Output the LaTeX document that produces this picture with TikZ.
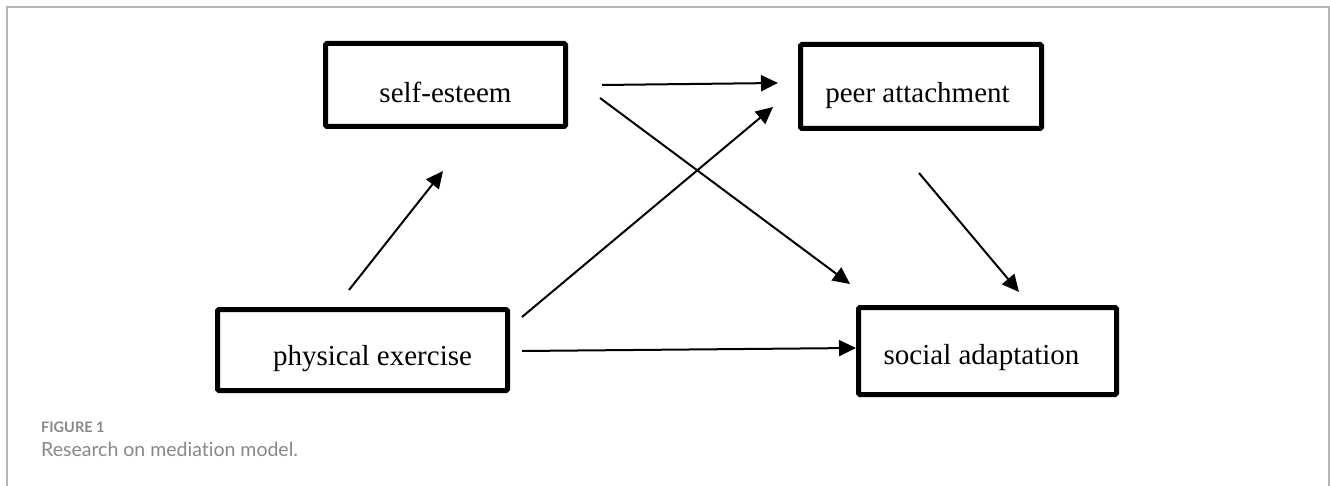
\documentclass[tikz,border=0pt]{standalone}
\usepackage{fontspec}
\setmainfont{Liberation Serif}
\newfontfamily\capfont[Ligatures={NoCommon}]{Lato}
\usetikzlibrary{arrows.meta}
\definecolor{framegray}{HTML}{B4B4B4}
\definecolor{capgray}{HTML}{888888}
\begin{document}
\begin{tikzpicture}[x=1pt,y=-1pt,
  box/.style={draw=black,line width=5pt,rounded corners=1.5pt,inner sep=0pt,outer sep=0pt,
    font=\fontsize{29}{34}\selectfont,text depth=0pt},
  conn/.style={line width=2pt,-{Triangle[length=17pt,width=16pt]}},
  frame/.style={draw=framegray,line width=2pt},
  captitle/.style={anchor=base west,inner sep=0pt,text=capgray,font=\capfont\bfseries\fontsize{14.5}{17}\selectfont},
  captext/.style={anchor=base west,inner sep=0pt,text=capgray,font=\capfont\fontsize{19.5}{23}\selectfont}]
\useasboundingbox (0,0) rectangle (1330,486);
\fill[white] (0,0) rectangle (1330,486);
% frame
\draw[frame] (6.7,486) -- (6.7,6.7) -- (1329,6.7) -- (1329,486);
% boxes
\node[box,minimum width=240pt,minimum height=83pt,text height=36pt] (se) at (445.5,85) {self-esteem};
\node[box,minimum width=241pt,minimum height=84pt,text height=33pt] (pa) at (921,86.5) {peer attachment\hspace*{7pt}};
\node[box,minimum width=290pt,minimum height=81pt,text height=30pt] (pe) at (362.5,350) {\hspace*{20pt}physical exercise};
\node[box,minimum width=258pt,minimum height=87pt,text height=26pt] (sa) at (987.5,351) {social adaptation\hspace*{12pt}};
% connector end points
\coordinate (se-a) at (602,85);
\coordinate (pa-a) at (778,83);
\coordinate (se-b) at (600,98);
\coordinate (sa-b) at (850,284);
\coordinate (pa-c) at (919,173);
\coordinate (sa-c) at (1019,292);
\coordinate (pe-d) at (349,290);
\coordinate (se-d) at (443,171);
\coordinate (pe-e) at (522,317);
\coordinate (pa-e) at (773,107);
\coordinate (pe-f) at (522,351);
\coordinate (sa-f) at (856,348);
\draw[conn] (se-a) -- (pa-a);
\draw[conn] (se-b) -- (sa-b);
\draw[conn] (pa-c) -- (sa-c);
\draw[conn] (pe-d) -- (se-d);
\draw[conn] (pe-e) -- (pa-e);
\draw[conn] (pe-f) -- (sa-f);
% caption
\node[captitle] (fig) at (41,432) {FIGURE 1};
\node[captext] (cap) at (41,456) {Research on mediation model.};
\end{tikzpicture}
\end{document}
